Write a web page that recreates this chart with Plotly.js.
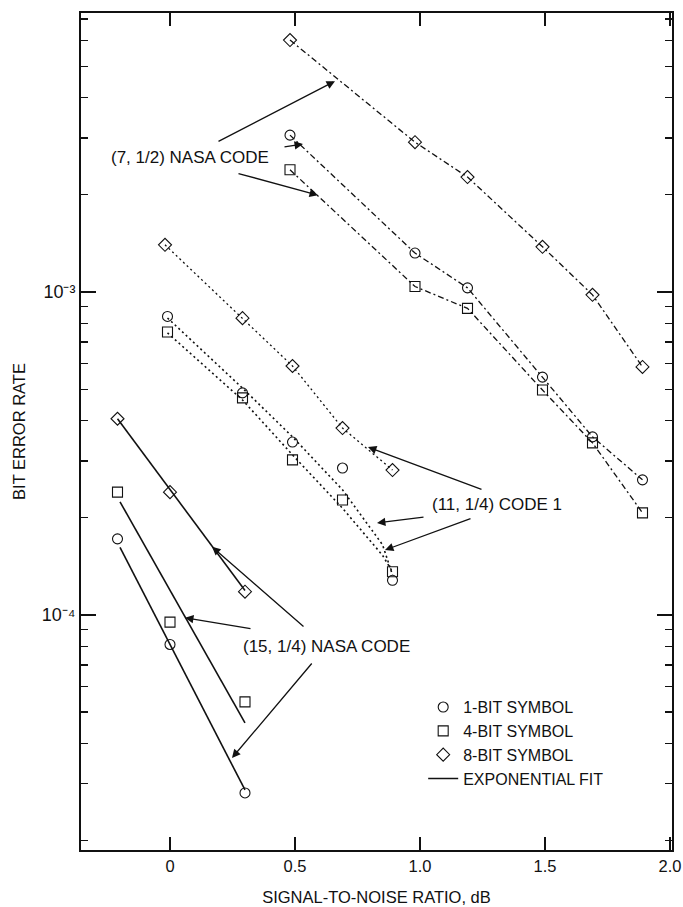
<!DOCTYPE html>
<html>
<head>
<meta charset="utf-8">
<script src="https://cdn.plot.ly/plotly-3.0.1.min.js"></script>
<style>html,body{margin:0;padding:0;background:#fff;}#chart{width:683px;height:907px;}</style>
</head>
<body>
<div id="chart"></div>
<script>
// ---- (7, 1/2) NASA code ----
const snr7 = [0.48, 0.98, 1.19, 1.49, 1.69, 1.89];
const ber7_1bit = [3.06e-3, 1.32e-3, 1.03e-3, 5.45e-4, 3.56e-4, 2.62e-4];
const ber7_4bit = [2.39e-3, 1.04e-3, 8.9e-4, 4.97e-4, 3.41e-4, 2.07e-4];
const ber7_8bit = [6.03e-3, 2.91e-3, 2.27e-3, 1.38e-3, 9.8e-4, 5.86e-4];

// ---- (11, 1/4) Code 1 ----
const snr11 = [-0.01, 0.29, 0.49, 0.69, 0.89];
const snr11_8 = [-0.02, 0.29, 0.49, 0.69, 0.89];
const ber11_1bit = [8.4e-4, 4.87e-4, 3.43e-4, 2.85e-4, 1.28e-4];
const ber11_4bit = [7.52e-4, 4.70e-4, 3.02e-4, 2.27e-4, 1.36e-4];
const ber11_8bit = [1.40e-3, 8.3e-4, 5.9e-4, 3.79e-4, 2.81e-4];
const fit11_x = [-0.01, 0.29, 0.49, 0.69, 0.85, 0.89];
const fit11_1bit = [8.31e-4, 5.04e-4, 3.56e-4, 2.44e-4, 1.65e-4, 1.33e-4];
const fit11_4bit = [7.47e-4, 4.63e-4, 3.13e-4, 2.14e-4, 1.53e-4, 1.36e-4];

// ---- (15, 1/4) NASA code ----
const snr15 = [-0.21, 0.0, 0.30];
const ber15_1bit = [1.72e-4, 8.1e-5, 2.81e-5];
const ber15_4bit = [2.40e-4, 9.5e-5, 5.38e-5];
const ber15_8bit = [4.05e-4, 2.40e-4, 1.18e-4];
const fit15_x = [-0.20, 0.30];
const fit15_x8 = [-0.21, 0.30];
const fit15_1bit = [1.62e-4, 2.87e-5];
const fit15_4bit = [2.24e-4, 4.63e-5];
const fit15_8bit = [4.05e-4, 1.19e-4];

// ---- axis ticks ----
const xTickVals = [0, 0.5, 1.0, 1.5, 2.0];
const xTickText = ['0', '0.5', '1.0', '1.5', '2.0'];
const yTickVals = [1e-4, 1e-3];
const yTickText = ['10\u207B\u2074', '10\u207B\u00B3'];
const yMinorVals = [2e-5,3e-5,4e-5,5e-5,6e-5,7e-5,8e-5,9e-5,2e-4,3e-4,4e-4,5e-4,6e-4,7e-4,8e-4,9e-4,2e-3,3e-3,4e-3,5e-3,6e-3,7e-3];

const legendNames = ['1-BIT SYMBOL', '4-BIT SYMBOL', '8-BIT SYMBOL', 'EXPONENTIAL FIT'];

const FONT = '"Liberation Sans", Arial, Helvetica, sans-serif';
const BLACK = '#111';
const DASHDOT = '6px,3px,2px,3px';
const DOT = '2px,3px';

function mk(x, y, sym, dash, mode, name) {
  return {
    x: x, y: y, type: 'scatter', mode: mode, showlegend: !!name, name: name || '', hoverinfo: 'skip',
    marker: {symbol: sym, size: 10, color: BLACK, line: {color: BLACK, width: 1.1}},
    line: {color: BLACK, width: 1.3, dash: dash}
  };
}
function ln(x, y, dash, w, name) {
  return {x: x, y: y, type: 'scatter', mode: 'lines', showlegend: !!name, name: name || '', hoverinfo: 'skip',
    line: {color: BLACK, width: w, dash: dash}};
}

const traces = [
  // (15,1/4) markers double as legend entries
  mk(snr15, ber15_1bit, 'circle-open', 'solid', 'markers', legendNames[0]),
  mk(snr15, ber15_4bit, 'square-open', 'solid', 'markers', legendNames[1]),
  mk(snr15, ber15_8bit, 'diamond-open', 'solid', 'markers', legendNames[2]),
  ln(fit15_x8, fit15_8bit, 'solid', 1.6, legendNames[3]),
  ln(fit15_x, fit15_4bit, 'solid', 1.6),
  ln(fit15_x, fit15_1bit, 'solid', 1.6),
  // (7,1/2)
  mk(snr7, ber7_8bit, 'diamond-open', DASHDOT, 'lines+markers'),
  mk(snr7, ber7_1bit, 'circle-open', DASHDOT, 'lines+markers'),
  mk(snr7, ber7_4bit, 'square-open', DASHDOT, 'lines+markers'),
  // (11,1/4)
  mk(snr11_8, ber11_8bit, 'diamond-open', DOT, 'lines+markers'),
  ln(fit11_x, fit11_1bit, DOT, 1.6),
  ln(fit11_x, fit11_4bit, DOT, 1.6),
  mk(snr11, ber11_1bit, 'circle-open', 'solid', 'markers'),
  mk(snr11, ber11_4bit, 'square-open', 'solid', 'markers')
];

const annFont = {family: FONT, size: 17, color: BLACK};
function arrow(x, ylog, ax, ay) {
  return {x: x, y: ylog, xref: 'x', yref: 'y', ax: ax, ay: ay, text: '', showarrow: true,
    arrowhead: 2, arrowsize: 1.3, arrowwidth: 1.3, arrowcolor: BLACK, standoff: 0};
}
function label(x, ylog, txt) {
  return {x: x, y: ylog, xref: 'x', yref: 'y', text: txt, showarrow: false, font: annFont,
    xanchor: 'center', yanchor: 'middle'};
}

const annotations = [
  label(0.08, -2.585, '(7, 1/2) NASA CODE'),
  arrow(0.66, -2.347, -118, 61),
  arrow(0.532, -2.542, -20, 3),
  arrow(0.592, -2.700, -81, -22),
  label(1.308, -3.659, '(11, 1/4) CODE 1'),
  arrow(0.792, -3.480, 115, 43),
  arrow(0.828, -3.715, 48, -6),
  arrow(0.86, -3.799, 87, -32),
  label(0.624, -4.099, '(15, 1/4) NASA CODE'),
  arrow(0.168, -3.789, 93, 81),
  arrow(0.06, -4.009, 67, 11),
  arrow(0.248, -4.443, 81, -96)
];

const layout = {
  width: 683, height: 907,
  margin: {l: 81, r: 11, t: 13, b: 57},
  paper_bgcolor: '#fff', plot_bgcolor: '#fff',
  font: {family: FONT, size: 16.5, color: BLACK},
  showlegend: true,
  legend: {x: 0.579, y: 0.191, xanchor: 'left', yanchor: 'top', bgcolor: 'rgba(0,0,0,0)',
    borderwidth: 0, font: {family: FONT, size: 16, color: BLACK}, tracegroupgap: 0, traceorder: 'normal'},
  xaxis: {
    range: [-0.356, 2.008], tickmode: 'array', tickvals: xTickVals, ticktext: xTickText,
    ticks: 'inside', ticklen: 13, tickwidth: 1.5, tickcolor: BLACK,
    showline: true, linewidth: 2, linecolor: BLACK, mirror: 'ticks',
    showgrid: false, zeroline: false,
    tickfont: {family: FONT, size: 16.5, color: BLACK},
    title: {text: 'SIGNAL-TO-NOISE RATIO, dB', font: {family: FONT, size: 16.5, color: BLACK}, standoff: 18}
  },
  yaxis: {
    type: 'log', range: [-4.728, -2.136], tickmode: 'array', tickvals: yTickVals, ticktext: yTickText,
    ticks: 'inside', ticklen: 15, tickwidth: 1.5, tickcolor: BLACK,
    minor: {tickmode: 'array', tickvals: yMinorVals, ticks: 'inside', ticklen: 7, tickwidth: 1.3, tickcolor: BLACK, showgrid: false},
    showline: true, linewidth: 2, linecolor: BLACK, mirror: 'ticks',
    showgrid: false, zeroline: false,
    tickfont: {family: FONT, size: 18, color: BLACK},
    title: {text: 'BIT ERROR RATE', font: {family: FONT, size: 16.5, color: BLACK}, standoff: 12}
  },
  annotations: annotations
};

Plotly.newPlot('chart', traces, layout, {displayModeBar: false, staticPlot: true});
</script>
</body>
</html>
